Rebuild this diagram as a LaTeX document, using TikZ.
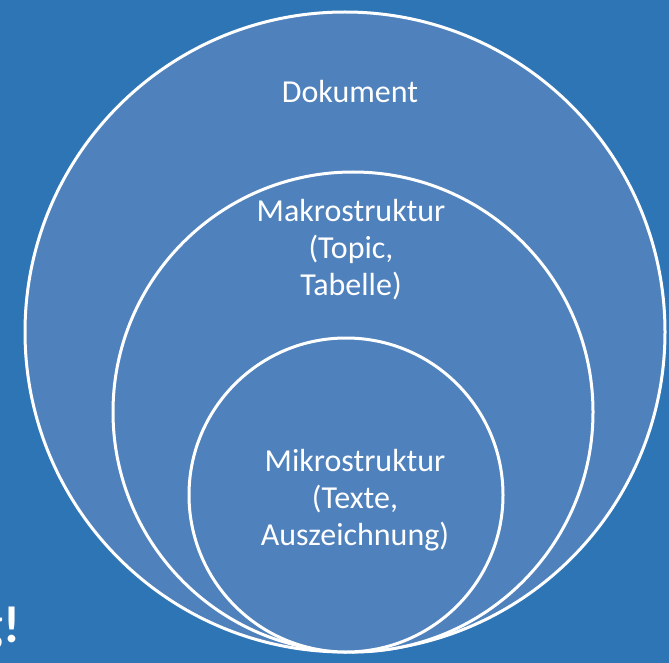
\documentclass[tikz,border=0pt]{standalone}
\usepackage{fontspec}
\setmainfont{Carlito}
\definecolor{slideblue}{HTML}{2E75B6}
\definecolor{ringblue}{HTML}{4F81BD}
\tikzset{
  ring/.style={circle, fill=ringblue, draw=white, line width=3pt, inner sep=0pt},
  ringlabel/.style={text=white, align=center, font=\fontsize{32}{37}\selectfont}
}
\begin{document}
\begin{tikzpicture}[x=1pt,y=-1pt]
\useasboundingbox[fill=slideblue] (0,0) rectangle (669,663);

% Kreise
\node[ring, minimum size=640pt] (dokument) at (345,332) {};
\node[ring, minimum size=480pt] (makro) at (353,412) {};
\node[ring, minimum size=314pt] (mikro) at (346,495) {};

% Beschriftungen
\node[ringlabel] (doklabel) at (350,92) {Dokument};
\node[ringlabel] (makrolabel) at (351,250) {Makrostruktur\\(Topic,\\Tabelle)};
\node[ringlabel] (mikrolabel) at (355,500) {Mikrostruktur\\(Texte,\\Auszeichnung)};

% Rest vom Folientext
\node[text=white, anchor=base east, font=\fontsize{52}{60}\selectfont\bfseries] (rest) at (24,642) {g!};
\end{tikzpicture}
\end{document}
